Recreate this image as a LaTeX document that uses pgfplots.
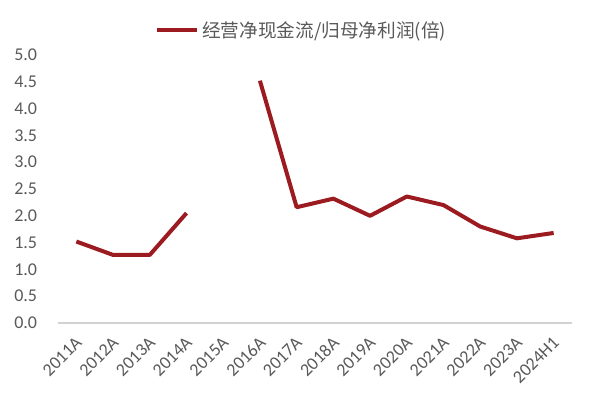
\documentclass[border=0pt]{standalone}
\usepackage{fontspec}
\setmainfont{Carlito}
\newfontfamily\cjk{Noto Sans CJK SC}
\usepackage{pgfplots}
\pgfplotsset{compat=1.18}

\definecolor{linered}{RGB}{155,27,32}
\definecolor{txtgray}{RGB}{89,89,89}
\definecolor{axgray}{RGB}{210,210,210}

\begin{document}
\begin{tikzpicture}
\path[use as bounding box] (0,0) rectangle (444.75pt,303pt);
\begin{axis}[
  scale only axis,
  width=385.5pt, height=201pt,
  at={(43.5pt,60.75pt)}, anchor=south west,
  xmin=-0.5, xmax=13.5, ymin=0, ymax=5,
  axis x line=bottom, axis y line=left,
  y axis line style={draw=none},
  x axis line style={draw=axgray, line width=1.2pt, -},
  tick style={draw=none},
  xtick={0,...,13},
  xticklabels={2011A,2012A,2013A,2014A,2015A,2016A,2017A,2018A,2019A,2020A,2021A,2022A,2023A,2024H1},
  x tick label style={rotate=45, anchor=north east, inner sep=1pt, yshift=-3pt, xshift=-5pt},
  ytick={0,0.5,...,5},
  y tick label style={/pgf/number format/fixed, /pgf/number format/fixed zerofill,
    /pgf/number format/precision=1, xshift=-10pt},
  /pgf/number format/assume math mode=true,
  ticklabel style={font=\fontsize{13.5}{15}\selectfont, text=txtgray},
  unbounded coords=jump,
  legend style={at={(0.189,1.093)}, anchor=west, draw=none, fill=none,
    font=\cjk\fontsize{14}{16}\selectfont, text=txtgray, inner sep=0pt},
  legend image code/.code={\draw[#1] (0pt,0pt) -- (30pt,0pt);},
  clip=false,
]
\addplot[linered, line width=3pt, line join=round] coordinates {
  (0,1.52) (1,1.27) (2,1.27) (3,2.05) (4,nan) (5,4.52) (6,2.16)
  (7,2.32) (8,2.00) (9,2.36) (10,2.20) (11,1.80) (12,1.58) (13,1.68)
};
\legend{经营净现金流/归母净利润(倍)}
\end{axis}
\end{tikzpicture}
\end{document}
